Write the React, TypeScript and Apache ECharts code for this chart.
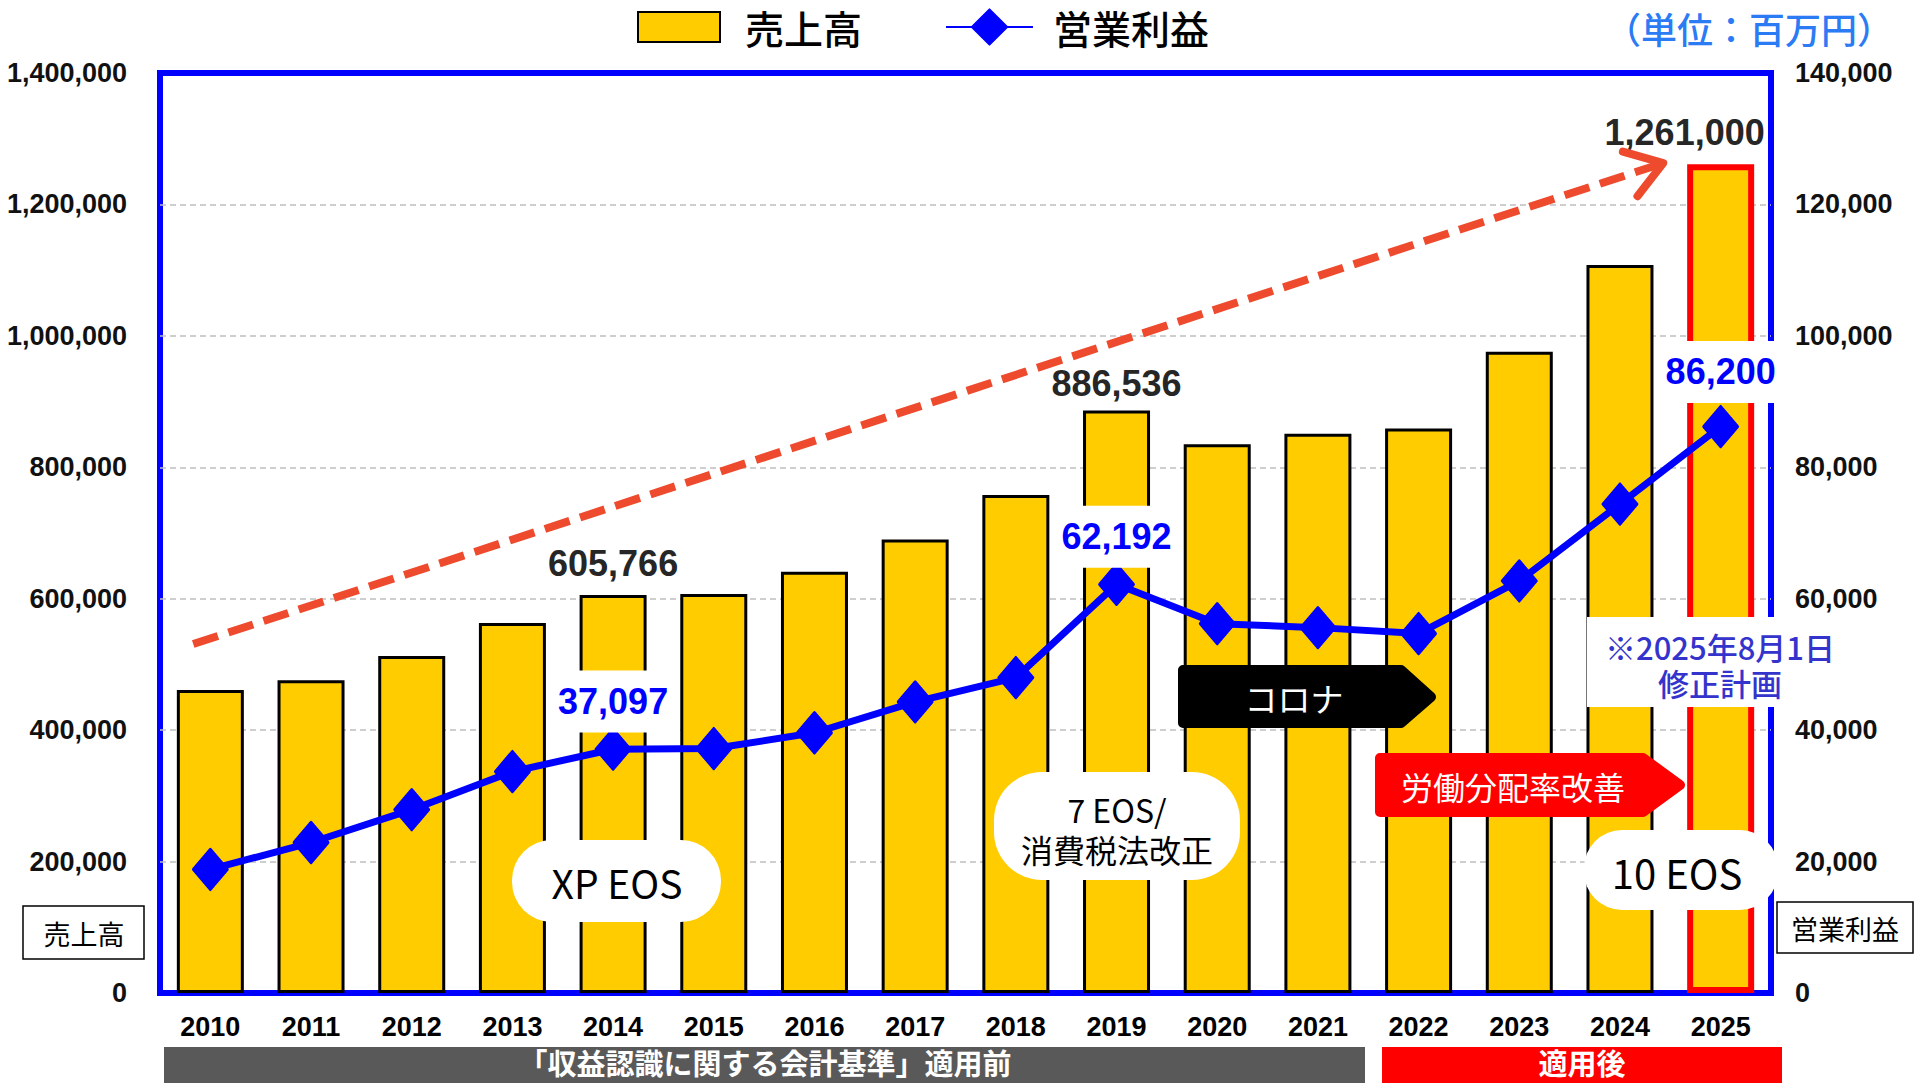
import React, { useEffect, useRef } from "react";
import * as echarts from "echarts";

// ---------------- data ----------------
const years = ["2010", "2011", "2012", "2013", "2014", "2015", "2016", "2017", "2018", "2019", "2020", "2021", "2022", "2023", "2024", "2025"];
const sales = [461000, 476000, 513000, 563000, 605766, 607000, 641000, 690000, 758000, 886536, 835000, 851000, 859000, 976000, 1108000, 1261000];
const profit = [18800, 22900, 27900, 33700, 37097, 37200, 39600, 44300, 48000, 62192, 56200, 55600, 54700, 62700, 74400, 86200];
const salesAxis = { min: 0, max: 1400000, interval: 200000 };
const profitAxis = { min: 0, max: 140000, interval: 20000 };
const labelledSalesYears = ["2014", "2019", "2025"];
const labelledProfitYears = ["2014", "2019", "2025"];
const planYear = "2025";
// trend arrow in data terms: [category index, sales value]
const trendStart = [-0.17, 531000];
const trendEnd = [14.43, 1263000];

const NUM = '"Liberation Sans", Arial, sans-serif';
const JP = '"Noto Sans CJK JP", "Noto Sans", sans-serif';
const fmt = (v: number) => Number(v).toLocaleString("en-US");

export default function App() {
  const ref = useRef<HTMLDivElement>(null);

  useEffect(() => {
    document.body.style.margin = "0";
    const chart = echarts.init(ref.current!, null, { renderer: "svg" });

    const salesLabel: Record<string, any> = {
      "2014": { distance: 13 },
      "2019": { distance: 9 },
      "2025": { distance: 14, offset: [-36, 0] },
    };
    const profitLabel: Record<string, any> = {
      "2014": { distance: -5 },
      "2019": { distance: -5 },
      "2025": { distance: 2 },
    };

    const option: any = {
      animation: false,
      backgroundColor: "#ffffff",
      textStyle: { fontFamily: NUM },
      legend: [
        {
          data: [{ name: "売上高", icon: "rect" }],
          left: 632,
          top: 0,
          itemWidth: 82,
          itemHeight: 30,
          textStyle: { fontSize: 39, lineHeight: 44, fontWeight: 500, color: "#000", fontFamily: JP, padding: [0, 0, 0, 20] },
        },
        {
          data: ["営業利益"],
          left: 940,
          top: 0,
          itemWidth: 87,
          itemHeight: 44,
          textStyle: { fontSize: 39, lineHeight: 44, fontWeight: 500, color: "#000", fontFamily: JP, padding: [0, 0, 0, 15] },
        },
      ],
      grid: {
        left: 160,
        top: 73,
        width: 1611,
        height: 920,
        show: true,
        borderColor: "#0000FF",
        borderWidth: 6,
        backgroundColor: "transparent",
      },
      xAxis: {
        type: "category",
        data: years,
        axisLine: { show: true, lineStyle: { color: "#0000FF", width: 6 } },
        axisTick: { show: false },
        axisLabel: { fontSize: 27, fontWeight: "bold", color: "#000", margin: 20, fontFamily: NUM },
      },
      yAxis: [
        {
          type: "value",
          ...salesAxis,
          axisLine: { show: false },
          axisTick: { show: false },
          axisLabel: { formatter: fmt, fontSize: 27, fontWeight: "bold", color: "#111", margin: 33, fontFamily: NUM },
          splitLine: { show: true, showMinLine: false, showMaxLine: false, lineStyle: { color: "#BFBFBF", width: 1.5, type: [6, 4] } },
        },
        {
          type: "value",
          position: "right",
          ...profitAxis,
          axisLine: { show: false },
          axisTick: { show: false },
          axisLabel: { formatter: fmt, fontSize: 27, fontWeight: "bold", color: "#111", margin: 24, fontFamily: NUM },
          splitLine: { show: false },
        },
      ],
      series: [
        {
          type: "bar",
          name: "売上高",
          barWidth: 67,
          itemStyle: { color: "#FFCC00", borderColor: "#000", borderWidth: 3 },
          data: sales.map((v, i) => {
            const y = years[i];
            const item: any = { value: v };
            if (y === planYear) item.itemStyle = { borderColor: "#FF0000", borderWidth: 6 };
            if (labelledSalesYears.includes(y)) {
              item.label = {
                show: true,
                position: "top",
                formatter: (p: any) => fmt(p.value),
                fontSize: 36,
                fontWeight: "bold",
                color: "#262626",
                fontFamily: NUM,
                ...salesLabel[y],
              };
            }
            return item;
          }),
        },
        {
          type: "line",
          name: "営業利益",
          yAxisIndex: 1,
          symbol: "diamond",
          symbolSize: [34, 40],
          z: 3,
          lineStyle: { color: "#0000FF", width: 7 },
          itemStyle: { color: "#0000FF", borderColor: "#0000FF", borderWidth: 3, borderJoin: "round" },
          data: profit.map((v, i) => {
            const y = years[i];
            const item: any = { value: v };
            if (labelledProfitYears.includes(y)) {
              item.label = {
                show: true,
                position: "top",
                formatter: (p: any) => fmt(p.value),
                fontSize: 36,
                fontWeight: "bold",
                color: "#0000FF",
                fontFamily: NUM,
                backgroundColor: "#ffffff",
                padding: [13, 10],
                ...profitLabel[y],
              };
            }
            return item;
          }),
        },
      ],
    };

    chart.setOption(option);

    // trend arrow positioned through the chart's own scales
    const p0 = chart.convertToPixel({ gridIndex: 0 }, [0, 0]) as number[];
    const p1 = chart.convertToPixel({ gridIndex: 0 }, [1, 0]) as number[];
    const step = p1[0] - p0[0];
    const xAt = (idx: number) => p0[0] + idx * step;
    const yAt = (v: number) => chart.convertToPixel({ yAxisIndex: 0 }, v) as number;
    const sx = xAt(trendStart[0]);
    const sy = yAt(trendStart[1]);
    const ex = xAt(trendEnd[0]);
    const ey = yAt(trendEnd[1]);
    const ang = Math.atan2(sy - ey, sx - ex);
    const armLen = 42;
    const spread = (34 * Math.PI) / 180;
    const a1 = [ex + armLen * Math.cos(ang + spread), ey + armLen * Math.sin(ang + spread)];
    const a2 = [ex + armLen * Math.cos(ang - spread), ey + armLen * Math.sin(ang - spread)];
    const ARROW = "#EE4A2E";

    const bubble = (x: number, y: number, w: number, h: number, r: number) => ({
      type: "rect",
      z: 20,
      shape: { x, y, width: w, height: h, r },
      style: { fill: "#ffffff" },
    });
    const txt = (x: number, y: number, text: string, size: number, fill: string, extra: any = {}) => ({
      type: "text",
      z: 21,
      x,
      y,
      style: { text, fontSize: size, fill, fontFamily: JP, align: "center", verticalAlign: "middle", ...extra },
    });

    const graphic: any[] = [
      // trend arrow
      {
        type: "line",
        z: 15,
        shape: { x1: sx, y1: sy, x2: ex, y2: ey },
        style: { stroke: ARROW, lineWidth: 8, lineDash: [26, 11] },
      },
      {
        type: "polyline",
        z: 15,
        shape: { points: [a1, [ex, ey], a2] },
        style: { stroke: ARROW, lineWidth: 8, fill: null, lineJoin: "round", lineCap: "round" },
      },
      // unit
      txt(1893, 28, "（単位：百万円）", 36, "#2B7BF5", { align: "right", fontWeight: 500 }),
      // axis name boxes
      { type: "rect", z: 20, shape: { x: 23, y: 906, width: 121, height: 53 }, style: { fill: "#fff", stroke: "#000", lineWidth: 1.5 } },
      txt(84, 933, "売上高", 27, "#000"),
      { type: "rect", z: 20, shape: { x: 1777, y: 902, width: 136, height: 51 }, style: { fill: "#fff", stroke: "#000", lineWidth: 1.5 } },
      txt(1845, 928, "営業利益", 27, "#000"),
      // bottom bands
      { type: "rect", z: 20, shape: { x: 164, y: 1047, width: 1201, height: 50 }, style: { fill: "#595959" } },
      txt(765, 1062, "「収益認識に関する会計基準」適用前", 29, "#fff", { fontWeight: "bold" }),
      { type: "rect", z: 20, shape: { x: 1382, y: 1047, width: 400, height: 50 }, style: { fill: "#FF0000" } },
      txt(1582, 1062, "適用後", 29, "#fff", { fontWeight: "bold" }),
      // XP EOS
      bubble(512, 840, 209, 82, 40),
      txt(617, 882, "XP EOS", 39, "#000"),
      // 7 EOS
      bubble(994, 772, 246, 108, 48),
      txt(1117, 829, "7 EOS/\n消費税法改正", 32, "#000", { lineHeight: 40 }),
      // 10 EOS
      bubble(1584, 830, 194, 80, 38),
      txt(1677, 872, "10 EOS", 40, "#000"),
      // コロナ arrow
      {
        type: "polygon",
        z: 20,
        shape: { points: [[1183, 670], [1401, 670], [1431, 697], [1401, 723], [1183, 723]] },
        style: { fill: "#000", stroke: "#000", lineWidth: 10, lineJoin: "round" },
      },
      txt(1294, 698, "コロナ", 33, "#fff"),
      // 労働分配率改善 arrow
      {
        type: "polygon",
        z: 20,
        shape: { points: [[1380, 758], [1643, 758], [1680, 785], [1643, 812], [1380, 812]] },
        style: { fill: "#FF0000", stroke: "#FF0000", lineWidth: 10, lineJoin: "round" },
      },
      txt(1513, 786, "労働分配率改善", 32, "#fff"),
      // plan note
      { type: "rect", z: 20, shape: { x: 1587, y: 617, width: 263, height: 90 }, style: { fill: "#fff" } },
      txt(1720, 664, "※2025年8月1日\n修正計画", 31, "#3434CC", { lineHeight: 36, fontWeight: 500 }),
    ];

    chart.setOption({ graphic });

    return () => chart.dispose();
  }, []);

  return <div ref={ref} style={{ position: "absolute", left: 0, top: 0, width: 1915, height: 1083 }} />;
}
